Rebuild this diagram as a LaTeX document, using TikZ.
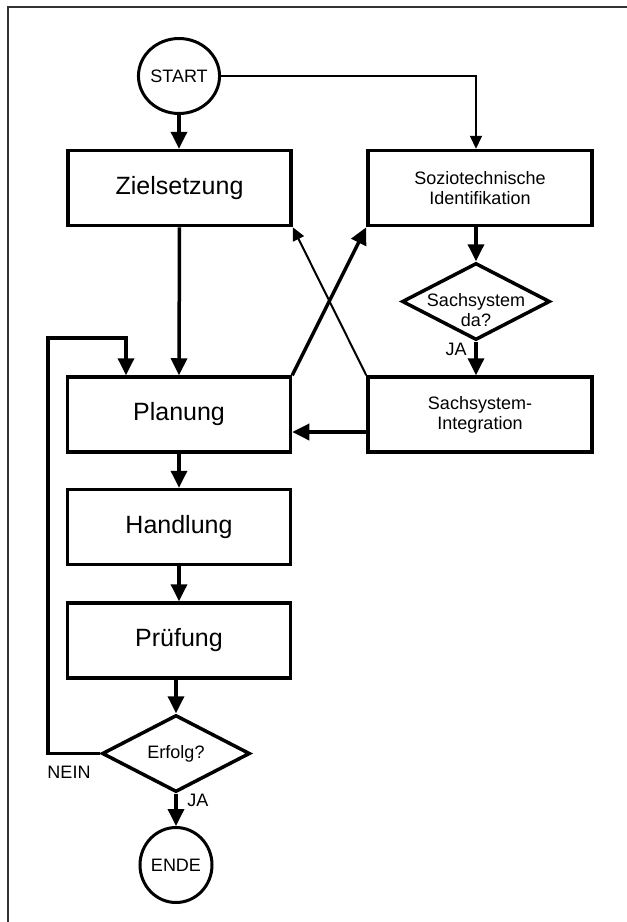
\documentclass[tikz,border=0pt]{standalone}
\usepackage{fontspec}
\setmainfont{Liberation Sans}
\usetikzlibrary{shapes.geometric,arrows.meta}
\begin{document}
\begin{tikzpicture}[x=1pt,y=-1pt,
  box/.style={draw,line width=3.5pt,minimum width=223pt,minimum height=75pt,inner sep=0pt},
  bigtext/.style={font=\fontsize{25}{28}\selectfont},
  smalltext/.style={font=\fontsize{18}{20}\selectfont,align=center},
  term/.style={draw,ellipse,line width=3pt,minimum width=72pt,minimum height=75pt,inner sep=0pt,font=\fontsize{18}{20}\selectfont},
  decide/.style={draw,diamond,line width=3.5pt,minimum width=148pt,minimum height=77pt,inner sep=0pt,aspect=1.92,font=\fontsize{18}{20}\selectfont,align=center},
  tag/.style={inner sep=0pt,font=\fontsize{18}{20}\selectfont},
  flow/.style={line width=3.5pt,-{Triangle[length=17pt,width=16pt]}},
  thinflow/.style={line width=2pt,-{Triangle[length=13pt,width=12pt]}}]
\useasboundingbox (0,0) rectangle (627,922);

% page frame (top and left edges only)
\draw[line width=1.2pt,black!80] (8,922) -- (8,7) -- (627,7);

% nodes
\node[term] (start) at (179,76) {START};
\node[box,bigtext] (ziel) at (179.5,188) {Zielsetzung};
\node[box,smalltext,minimum width=224pt] (sozio) at (480,188) {Soziotechnische\\Identifikation};
\node[decide] (sda) at (476,301.5) {};
\node[smalltext,inner sep=0pt] (sdatext) at (476,310) {Sachsystem\\da?};
\node[tag] (ja1) at (456,349) {JA};
\node[box,smalltext,minimum width=224pt] (sint) at (480,414.5) {Sachsystem-\\Integration};
\node[box,bigtext] (plan) at (179,414.5) {Planung};
\node[box,bigtext] (hand) at (179,527) {Handlung};
\node[box,bigtext] (pruef) at (179,640.5) {Prüfung};
\node[decide] (erf) at (176,753.5) {Erfolg?};
\node[tag] (nein) at (69,772) {NEIN};
\node[tag] (ja2) at (198,800) {JA};
\node[term] (ende) at (176,865) {ENDE};

\coordinate (lt) at (48,338);

% connectors
\draw[flow] (start.south) -- (start.south |- ziel.north);
\draw[thinflow] (start.east) -| (sozio.north -| sda.north);
\draw[flow] (ziel.south) -- (plan.north);
\draw[flow] (sozio.south -| sda.north) -- (sda.north);
\draw[flow] (sda.south) -- (sda.south |- sint.north);
\draw[flow] ([yshift=-17.5pt]sint.west) -- ([yshift=-17.5pt]sint.west -| plan.east);
\draw[flow] (plan.north east) -- (sozio.south west);
\draw[thinflow] (sint.north west) -- (ziel.south east);
\draw[flow] (plan.south) -- (hand.north);
\draw[flow] (hand.south) -- (pruef.north);
\draw[flow] (pruef.south -| erf.north) -- (erf.north);
\draw[flow] (erf.south) -- (ende.north);
\draw[flow] (erf.west) -- (erf.west -| lt) -- (lt) -| ([xshift=-53pt]plan.north);
\end{tikzpicture}
\end{document}
